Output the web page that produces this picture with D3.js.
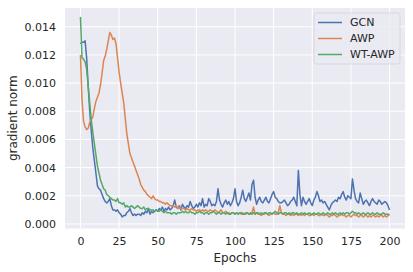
<!DOCTYPE html>
<html>
<head>
<meta charset="utf-8">
<script src="https://cdn.jsdelivr.net/npm/d3@7"></script>
<style>
  body { margin: 0; background: #fff; }
  text { font-family: "DejaVu Sans", sans-serif; fill: #262626; }
</style>
</head>
<body>
<div id="chart"></div>
<script>
// Chart data
const seriesNames = ["GCN", "AWP", "WT-AWP"];
const seriesColors = ["#4c72b0", "#dd8452", "#55a868"];
const xTicks = [0, 25, 50, 75, 100, 125, 150, 175, 200];
const yTicks = [0, 0.002, 0.004, 0.006, 0.008, 0.010, 0.012, 0.014];

// epochs 0..200
const gcn = [
  0.0128, 0.0129, 0.0129, 0.0130, 0.0118, 0.0098, 0.0080, 0.0066, 0.0054, 0.0045,
  0.0036, 0.0027, 0.0025, 0.0024, 0.0021, 0.0018, 0.0016, 0.0015, 0.0016, 0.0018,
  0.0013, 0.0010, 0.0010, 0.0009, 0.0010, 0.0008, 0.0007, 0.0005, 0.0006, 0.0006,
  0.0008, 0.0009, 0.0011, 0.0008, 0.0006, 0.0007, 0.0006, 0.0007, 0.0007, 0.0006,
  0.0008, 0.0007, 0.0009, 0.0008, 0.0011, 0.0007, 0.0009, 0.0008, 0.0009, 0.0010,
  0.0009, 0.0011, 0.0010, 0.0012, 0.0009, 0.0011, 0.0010, 0.0012, 0.0010, 0.0011,
  0.0013, 0.0017, 0.0012, 0.0011, 0.0013, 0.0010, 0.0014, 0.0012, 0.0011, 0.0013,
  0.0012, 0.0016, 0.0013, 0.0011, 0.0012, 0.0014, 0.0012, 0.0015, 0.0013, 0.0018,
  0.0012, 0.0014, 0.0013, 0.0018, 0.0016, 0.0013, 0.0014, 0.0013, 0.0016, 0.0025,
  0.0017, 0.0014, 0.0012, 0.0015, 0.0017, 0.0014, 0.0016, 0.0013, 0.0015, 0.0018,
  0.0025, 0.0016, 0.0013, 0.0015, 0.0019, 0.0024, 0.0018, 0.0016, 0.0019, 0.0022,
  0.0017, 0.0028, 0.0031, 0.0019, 0.0014, 0.0017, 0.0019, 0.0016, 0.0015, 0.0017,
  0.0019, 0.0016, 0.0015, 0.0018, 0.0021, 0.0023, 0.0019, 0.0018, 0.0016, 0.0015,
  0.0015, 0.0016, 0.0017, 0.0015, 0.0013, 0.0014, 0.0016, 0.0017, 0.0019, 0.0016,
  0.0013, 0.0038, 0.0021, 0.0013, 0.0019, 0.0016, 0.0014, 0.0016, 0.0018, 0.0015,
  0.0013, 0.0017, 0.0019, 0.0023, 0.0020, 0.0016, 0.0017, 0.0015, 0.0016, 0.0014,
  0.0012, 0.0010, 0.0013, 0.0015, 0.0016, 0.0017, 0.0016, 0.0019, 0.0018, 0.0021,
  0.0023, 0.0019, 0.0017, 0.0020, 0.0019, 0.0018, 0.0032, 0.0024, 0.0018, 0.0016,
  0.0015, 0.0022, 0.0018, 0.0014, 0.0016, 0.0017, 0.0015, 0.0013, 0.0016, 0.0018,
  0.0016, 0.0015, 0.0014, 0.0017, 0.0016, 0.0014, 0.0015, 0.0016, 0.0015, 0.0013,
  0.0010
];
const awp = [
  0.0120, 0.0088, 0.0073, 0.0069, 0.0067, 0.0068, 0.0072, 0.0074, 0.0076, 0.0082,
  0.0087, 0.0090, 0.0093, 0.0099, 0.0107, 0.0116, 0.0119, 0.0124, 0.0130, 0.0136,
  0.0134, 0.0131, 0.0132, 0.0128, 0.0118, 0.0108, 0.0100, 0.0093, 0.0086, 0.0075,
  0.0064, 0.0057, 0.0050, 0.0047, 0.0044, 0.0041, 0.0038, 0.0035, 0.0032, 0.0028,
  0.0026, 0.0024, 0.0023, 0.0021, 0.0020, 0.0019, 0.0018, 0.0020, 0.0018, 0.0017,
  0.0017, 0.0016, 0.0016, 0.0015, 0.0015, 0.0014, 0.0015, 0.0014, 0.0013, 0.0013,
  0.0013, 0.0012, 0.0013, 0.0011, 0.0012, 0.0011, 0.0011, 0.0011, 0.0010, 0.0011,
  0.0010, 0.0010, 0.0011, 0.0010, 0.0010, 0.0009, 0.0010, 0.0010, 0.0009, 0.0010,
  0.0009, 0.0010, 0.0009, 0.0009, 0.0010, 0.0009, 0.0009, 0.0010, 0.0009, 0.0008,
  0.0009, 0.0010, 0.0008, 0.0008, 0.0009, 0.0008, 0.0008, 0.0007, 0.0008, 0.0008,
  0.0007, 0.0008, 0.0007, 0.0008, 0.0007, 0.0008, 0.0007, 0.0007, 0.0008, 0.0007,
  0.0007, 0.0008, 0.0012, 0.0007, 0.0008, 0.0007, 0.0007, 0.0006, 0.0007, 0.0007,
  0.0008, 0.0007, 0.0006, 0.0007, 0.0007, 0.0008, 0.0007, 0.0007, 0.0008, 0.0013,
  0.0008, 0.0007, 0.0007, 0.0006, 0.0007, 0.0007, 0.0006, 0.0007, 0.0006, 0.0007,
  0.0007, 0.0006, 0.0007, 0.0006, 0.0007, 0.0006, 0.0007, 0.0007, 0.0006, 0.0006,
  0.0007, 0.0006, 0.0007, 0.0007, 0.0006, 0.0006, 0.0007, 0.0006, 0.0006, 0.0007,
  0.0006, 0.0005, 0.0006, 0.0006, 0.0007, 0.0006, 0.0005, 0.0006, 0.0006, 0.0007,
  0.0006, 0.0006, 0.0005, 0.0006, 0.0006, 0.0005, 0.0006, 0.0007, 0.0006, 0.0006,
  0.0005, 0.0006, 0.0006, 0.0005, 0.0006, 0.0006, 0.0005, 0.0006, 0.0005, 0.0006,
  0.0006, 0.0005, 0.0006, 0.0005, 0.0006, 0.0006, 0.0005, 0.0006, 0.0005, 0.0006,
  0.0006
];
const wtAwp = [
  0.0147, 0.0118, 0.0117, 0.0115, 0.0110, 0.0098, 0.0086, 0.0074, 0.0065, 0.0057,
  0.0049, 0.0041, 0.0036, 0.0031, 0.0028, 0.0025, 0.0024, 0.0021, 0.0020, 0.0019,
  0.0018, 0.0017, 0.0017, 0.0016, 0.0018, 0.0015, 0.0015, 0.0014, 0.0015, 0.0012,
  0.0013, 0.0012, 0.0012, 0.0013, 0.0012, 0.0011, 0.0012, 0.0013, 0.0012, 0.0011,
  0.0011, 0.0012, 0.0010, 0.0011, 0.0011, 0.0010, 0.0010, 0.0010, 0.0009, 0.0010,
  0.0009, 0.0009, 0.0010, 0.0009, 0.0008, 0.0009, 0.0008, 0.0008, 0.0008, 0.0007,
  0.0008, 0.0008, 0.0007, 0.0008, 0.0008, 0.0008, 0.0009, 0.0008, 0.0009, 0.0008,
  0.0008, 0.0009, 0.0008, 0.0008, 0.0007, 0.0008, 0.0008, 0.0009, 0.0008, 0.0008,
  0.0007, 0.0008, 0.0008, 0.0007, 0.0008, 0.0008, 0.0009, 0.0008, 0.0007, 0.0008,
  0.0008, 0.0007, 0.0008, 0.0008, 0.0007, 0.0008, 0.0007, 0.0007, 0.0008, 0.0008,
  0.0007, 0.0008, 0.0007, 0.0008, 0.0008, 0.0007, 0.0007, 0.0008, 0.0008, 0.0007,
  0.0008, 0.0007, 0.0008, 0.0007, 0.0008, 0.0008, 0.0007, 0.0008, 0.0007, 0.0008,
  0.0008, 0.0007, 0.0008, 0.0008, 0.0007, 0.0008, 0.0009, 0.0008, 0.0007, 0.0008,
  0.0008, 0.0007, 0.0008, 0.0008, 0.0007, 0.0008, 0.0007, 0.0008, 0.0008, 0.0007,
  0.0008, 0.0007, 0.0007, 0.0008, 0.0007, 0.0008, 0.0007, 0.0007, 0.0008, 0.0007,
  0.0007, 0.0008, 0.0007, 0.0007, 0.0008, 0.0007, 0.0007, 0.0008, 0.0007, 0.0007,
  0.0008, 0.0007, 0.0007, 0.0008, 0.0007, 0.0008, 0.0007, 0.0007, 0.0008, 0.0007,
  0.0008, 0.0007, 0.0008, 0.0008, 0.0007, 0.0008, 0.0009, 0.0008, 0.0008, 0.0007,
  0.0008, 0.0007, 0.0007, 0.0008, 0.0007, 0.0007, 0.0008, 0.0007, 0.0007, 0.0008,
  0.0007, 0.0007, 0.0008, 0.0007, 0.0007, 0.0007, 0.0008, 0.0007, 0.0007, 0.0007,
  0.0007
];

// Plot constants
const W = 413, H = 272;
const MARGIN = {LEFT: 65, RIGHT: 8, TOP: 8, BOTTOM: 43.5};
const PW = W - MARGIN.LEFT - MARGIN.RIGHT;
const PH = H - MARGIN.TOP - MARGIN.BOTTOM;

const svg = d3.select("#chart").append("svg")
  .attr("width", W)
  .attr("height", H);

const g = svg.append("g")
  .attr("transform", "translate(" + MARGIN.LEFT + "," + MARGIN.TOP + ")");

const x = d3.scaleLinear().domain([-10, 210]).range([0, PW]);
const y = d3.scaleLinear().domain([-0.00032, 0.01533]).range([PH, 0]);

// seaborn darkgrid background
g.append("rect")
  .attr("width", PW)
  .attr("height", PH)
  .attr("fill", "#eaeaf2");

// gridlines
g.selectAll(".xgrid").data(xTicks).enter().append("line")
  .attr("x1", d => x(d)).attr("x2", d => x(d))
  .attr("y1", 0).attr("y2", PH)
  .attr("stroke", "#fff").attr("stroke-width", 1);
g.selectAll(".ygrid").data(yTicks).enter().append("line")
  .attr("x1", 0).attr("x2", PW)
  .attr("y1", d => y(d)).attr("y2", d => y(d))
  .attr("stroke", "#fff").attr("stroke-width", 1);

// axes (no tick marks, only labels)
const xAxis = g.append("g")
  .attr("transform", "translate(0," + PH + ")")
  .call(d3.axisBottom(x).tickValues(xTicks).tickSize(0).tickPadding(9));
const yAxis = g.append("g")
  .call(d3.axisLeft(y).tickValues(yTicks).tickFormat(d3.format(".3f")).tickSize(0).tickPadding(9));
[xAxis, yAxis].forEach(a => {
  a.select(".domain").remove();
  a.selectAll("text")
    .style("font-family", "DejaVu Sans, sans-serif")
    .style("font-size", "11px")
    .attr("fill", "#262626");
});

// lines
const allSeries = [gcn, awp, wtAwp];
const line = d3.line()
  .x((d, i) => x(i))
  .y(d => y(d));

allSeries.forEach((s, k) => {
  g.append("path")
    .datum(s)
    .attr("fill", "none")
    .attr("stroke", seriesColors[k])
    .attr("stroke-width", 1.5)
    .attr("stroke-linejoin", "round")
    .attr("d", line);
});

// axis titles
svg.append("text")
  .attr("x", MARGIN.LEFT + PW / 2)
  .attr("y", 262)
  .attr("text-anchor", "middle")
  .style("font-size", "12px")
  .text("Epochs");

svg.append("text")
  .attr("transform", "translate(17," + (MARGIN.TOP + PH / 2) + ") rotate(-90)")
  .attr("text-anchor", "middle")
  .style("font-size", "12px")
  .text("gradient norm");

// legend
const legend = svg.append("g").attr("transform", "translate(314,13)");
legend.append("rect")
  .attr("width", 86).attr("height", 51)
  .attr("rx", 2.5)
  .attr("fill", "#eaeaf2").attr("fill-opacity", 0.8)
  .attr("stroke", "#cccccc").attr("stroke-opacity", 0.8)
  .attr("stroke-width", 0.8);
seriesNames.forEach((name, i) => {
  const row = legend.append("g").attr("transform", "translate(0," + (9.5 + i * 16) + ")");
  row.append("line")
    .attr("x1", 4).attr("x2", 28)
    .attr("stroke", seriesColors[i]).attr("stroke-width", 1.5);
  row.append("text")
    .attr("x", 36).attr("dy", "0.35em")
    .style("font-size", "11px")
    .text(name);
});
</script>
</body>
</html>
